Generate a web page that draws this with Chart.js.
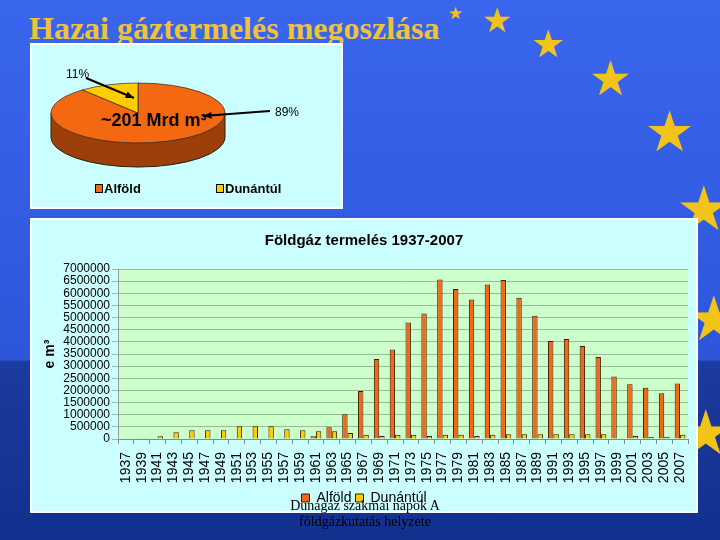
<!DOCTYPE html>
<html>
<head>
<meta charset="utf-8">
<script src="https://cdn.jsdelivr.net/npm/chart.js@4/dist/chart.umd.min.js"></script>
<style>
  body {
    margin: 0; width: 720px; height: 540px; overflow: hidden; position: relative;
    background: linear-gradient(to bottom, #3a66ee 0%, #2d56da 66.6%, #1b3b9e 67%, #12308e 100%);
    font-family: 'Liberation Sans', Arial, sans-serif;
  }
  #title {
    position: absolute; left: 29px; top: 10px; line-height: 1;
    font: bold 32px 'Liberation Serif', 'Times New Roman', serif; color: #efc23a;
  }
  .star { position: absolute; color: #f2c418; line-height: 1; font-family: 'DejaVu Sans', sans-serif; }
  #pieChart { position: absolute; left: 32px; top: 45px; background: #ccffff; box-shadow: 0 0 0 2px #fff; }
  #barChart { position: absolute; left: 32px; top: 220px; background: #ccffff; box-shadow: 0 0 0 2px #fff; }
  #foot {
    position: absolute; left: 240px; width: 250px; top: 498px; text-align: center;
    font: 14px 'Liberation Serif', 'Times New Roman', serif; color: #000; line-height: 16px;
  }
</style>
</head>
<body>
<div id="stars"></div>
<div id="title">Hazai gáztermelés megoszlása</div>
<canvas id="pieChart" width="309" height="162"></canvas>
<canvas id="barChart" width="664" height="291"></canvas>
<div id="foot">Dunagáz szakmai napok A<br>földgázkutatás helyzete</div>
<script>
// pie: share of the two regions
const pieLabels = ['Alföld', 'Dunántúl'];
const pieShares = [89, 11];
const pieTotal = '~201 Mrd m³';

// bars: yearly production (e m3)
const years = ['1937', '1939', '1941', '1943', '1945', '1947', '1949', '1951', '1953', '1955',
  '1957', '1959', '1961', '1963', '1965', '1967', '1969', '1971', '1973', '1975',
  '1977', '1979', '1981', '1983', '1985', '1987', '1989', '1991', '1993', '1995',
  '1997', '1999', '2001', '2003', '2005', '2007'];
const alfold = [0, 0, 0, 0, 0, 0, 0, 0, 20000, 20000,
  0, 20000, 110000, 480000, 1020000, 1980000, 3290000, 3690000, 4800000, 5170000,
  6570000, 6180000, 5740000, 6360000, 6550000, 5820000, 5070000, 4040000, 4120000, 3830000,
  3380000, 2570000, 2250000, 2110000, 1880000, 2290000];
const dunantul = [0, 30000, 110000, 275000, 360000, 360000, 360000, 520000, 520000, 520000,
  400000, 360000, 315000, 315000, 250000, 180000, 120000, 180000, 180000, 120000,
  180000, 180000, 120000, 180000, 200000, 200000, 200000, 200000, 200000, 200000,
  200000, 20000, 120000, 90000, 90000, 180000];

// decorative EU stars [x, y, size]
const stars = [[455, 14, 17], [496, 22, 34], [547, 46, 38], [609, 80, 48], [668, 135, 56],
  [702, 212, 62], [712, 322, 62], [704, 436, 62]];
stars.forEach(s => {
  let el = document.createElement('span');
  el.className = 'star';
  el.textContent = '★';
  el.style.fontSize = s[2] + 'px';
  el.style.left = (s[0] - s[2] * 0.42) + 'px';
  el.style.top = (s[1] - s[2] * 0.55) + 'px';
  document.getElementById('stars').appendChild(el);
});

const orange = '#f46812';
const yellow = '#ffcc00';
const squash = 30 / 87;
const depth = 24;

function arrow(ctx, x1, y1, x2, y2) {
  let a = Math.atan2(y2 - y1, x2 - x1);
  ctx.beginPath();
  ctx.moveTo(x1, y1);
  ctx.lineTo(x2, y2);
  ctx.stroke();
  ctx.beginPath();
  ctx.moveTo(x2, y2);
  ctx.lineTo(x2 - 9 * Math.cos(a - 0.4), y2 - 9 * Math.sin(a - 0.4));
  ctx.lineTo(x2 - 9 * Math.cos(a + 0.4), y2 - 9 * Math.sin(a + 0.4));
  ctx.closePath();
  ctx.fill();
}

// fake 3D: draw the side, squash the pie, then add labels
const pie3d = {
  id: 'pie3d',
  beforeDatasetsDraw(chart) {
    let ctx = chart.ctx;
    let arc = chart.getDatasetMeta(0).data[0];
    let cx = arc.x, cy = arc.y, r = arc.outerRadius, ry = r * squash;
    ctx.save();
    ctx.fillStyle = '#9c3f08';
    ctx.strokeStyle = '#222';
    ctx.lineWidth = 1;
    ctx.beginPath();
    ctx.moveTo(cx - r, cy);
    ctx.lineTo(cx - r, cy + depth);
    ctx.ellipse(cx, cy + depth, r, ry, 0, Math.PI, 0, true);
    ctx.lineTo(cx + r, cy);
    ctx.closePath();
    ctx.fill();
    ctx.stroke();
    ctx.restore();
    ctx.save();
    ctx.translate(cx, cy);
    ctx.scale(1, squash);
    ctx.translate(-cx, -cy);
  },
  afterDatasetsDraw(chart) {
    let ctx = chart.ctx;
    ctx.restore();
    let arc = chart.getDatasetMeta(0).data[0];
    let cx = arc.x, cy = arc.y, r = arc.outerRadius, ry = r * squash;
    ctx.save();
    ctx.fillStyle = '#000';
    ctx.strokeStyle = '#000';
    ctx.lineWidth = 2;
    ctx.textBaseline = 'middle';
    ctx.font = '12px "Liberation Sans", Arial, sans-serif';
    ctx.fillText(pieShares[1] + '%', 34, 30);
    ctx.fillText(pieShares[0] + '%', 243, 68);
    arrow(ctx, 54, 33, cx - 4, cy - ry * 0.5);
    ctx.beginPath();
    ctx.moveTo(238, 66);
    ctx.lineTo(224, 67);
    ctx.stroke();
    arrow(ctx, 224, 67, cx + r * 0.75, cy + ry * 0.1);
    ctx.font = 'bold 18px "Liberation Sans", Arial, sans-serif';
    ctx.fillText(pieTotal, 69, 76);
    // legend
    ctx.font = 'bold 13px "Liberation Sans", Arial, sans-serif';
    ctx.lineWidth = 1;
    let lx = [63, 184];
    pieLabels.forEach((l, i) => {
      ctx.fillStyle = [orange, yellow][i];
      ctx.fillRect(lx[i], 139, 7, 8);
      ctx.strokeRect(lx[i] + 0.5, 139.5, 7, 8);
      ctx.fillStyle = '#000';
      ctx.fillText(l, lx[i] + 9, 144);
    });
    ctx.restore();
  }
};

new Chart(document.getElementById('pieChart'), {
  type: 'pie',
  data: {
    labels: pieLabels,
    datasets: [{
      data: pieShares,
      backgroundColor: [orange, yellow],
      borderColor: '#222',
      borderWidth: 1,
      radius: 87,
      clip: false
    }]
  },
  options: {
    responsive: false,
    animation: false,
    layout: { padding: { left: 20, right: 117, top: 0, bottom: 26 } },
    plugins: { legend: { display: false }, tooltip: { enabled: false } }
  },
  plugins: [pie3d]
});

// green plot background
const plotBg = {
  id: 'plotBg',
  beforeDraw(chart) {
    let a = chart.chartArea;
    chart.ctx.save();
    chart.ctx.fillStyle = '#ccffcc';
    chart.ctx.fillRect(a.left, a.top, a.right - a.left, a.bottom - a.top);
    chart.ctx.restore();
  }
};

// keep the legend strip short so the plot reaches down like the original
const legendFit = {
  id: 'legendFit',
  beforeInit(chart) {
    let fit = chart.legend.fit;
    chart.legend.fit = function () { fit.call(this); this.height = 24; };
  }
};

new Chart(document.getElementById('barChart'), {
  type: 'bar',
  data: {
    labels: years,
    datasets: [
      { label: 'Alföld', data: alfold, backgroundColor: orange, borderColor: '#3a1a00', borderWidth: 1 },
      { label: 'Dunántúl', data: dunantul, backgroundColor: yellow, borderColor: '#3a1a00', borderWidth: 1 }
    ]
  },
  options: {
    responsive: false,
    animation: false,
    categoryPercentage: 0.68,
    barPercentage: 1,
    layout: { padding: { left: 8, right: 8, top: 0, bottom: 0 } },
    scales: {
      x: {
        grid: { drawOnChartArea: false, offset: true, tickLength: 5, color: '#888' },
        border: { color: '#888' },
        ticks: {
          autoSkip: false, maxRotation: 90, minRotation: 90, padding: 8,
          color: '#000', font: { family: '"Liberation Sans", Arial, sans-serif', size: 14 }
        },
        afterFit: s => { s.height = 48; s.paddingLeft = 0; s.paddingRight = 0; }
      },
      y: {
        min: 0, max: 7000000,
        grid: { color: '#99bb99', tickLength: 6 },
        border: { color: '#999' },
        ticks: {
          stepSize: 500000, autoSkip: false, padding: 2, color: '#000',
          font: { family: '"Liberation Sans", Arial, sans-serif', size: 12 },
          callback: v => String(v)
        },
        title: {
          display: true, text: 'e m³', color: '#000', padding: 2,
          font: { family: '"Liberation Sans", Arial, sans-serif', size: 14, weight: 'bold' }
        },
        afterFit: s => { s.width = 78; }
      }
    },
    plugins: {
      title: {
        display: true, text: 'Földgáz termelés 1937-2007', color: '#000',
        padding: { top: 12, bottom: 19 },
        font: { family: '"Liberation Sans", Arial, sans-serif', size: 15, weight: 'bold' }
      },
      legend: {
        position: 'bottom',
        labels: {
          boxWidth: 8, boxHeight: 8, padding: 4, color: '#000',
          font: { family: '"Liberation Sans", Arial, sans-serif', size: 14 }
        }
      },
      tooltip: { enabled: false }
    }
  },
  plugins: [plotBg, legendFit]
});
</script>
</body>
</html>
